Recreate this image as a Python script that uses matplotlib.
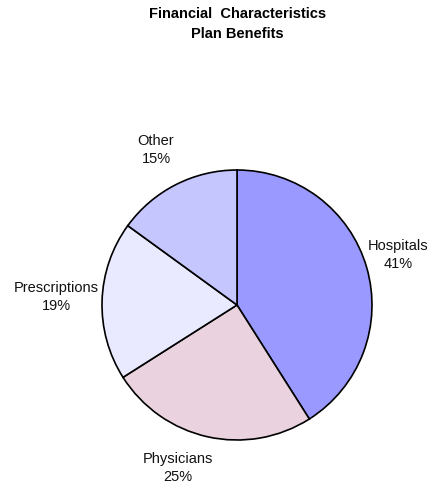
import matplotlib.pyplot as plt
import numpy as np

plt.rcParams['font.family'] = ['Liberation Sans', 'DejaVu Sans']

categories = ["Hospitals", "Physicians", "Prescriptions", "Other"]
shares = [41, 25, 19, 15]
colors = ["#9999ff", "#ead3df", "#e9e9ff", "#c6c6ff"]

# label placement (pixel offsets from pie centre, y up)
label_offsets = [(161, 50), (-59, -163), (-181, 8), (-81, 155)]

fig = plt.figure(figsize=(4.35, 4.88), dpi=100)
ax = fig.add_axes([0, 0, 1, 1])

cx, cy, r = 237, 488 - 305, 135
wedges, _ = ax.pie(shares, colors=colors, startangle=90, counterclock=False,
                   center=(cx, cy), radius=r, frame=True,
                   wedgeprops=dict(edgecolor='black', linewidth=1.2))
ax.set_xlim(0, 435)
ax.set_ylim(0, 488)
ax.set_aspect('equal')
ax.axis('off')

for name, val, (dx, dy) in zip(categories, shares, label_offsets):
    ax.text(cx + dx, cy + dy, f"{name}\n{val}%", ha='center', va='center',
            fontsize=10.5, color='#111111', linespacing=1.3)

fig.text(0.545, 0.972, "Financial  Characteristics", ha='center', va='center',
         fontsize=10.5, fontweight='bold')
fig.text(0.545, 0.93, "Plan Benefits", ha='center', va='center',
         fontsize=10.5, fontweight='bold')

fig.savefig("out.png", dpi=100)
